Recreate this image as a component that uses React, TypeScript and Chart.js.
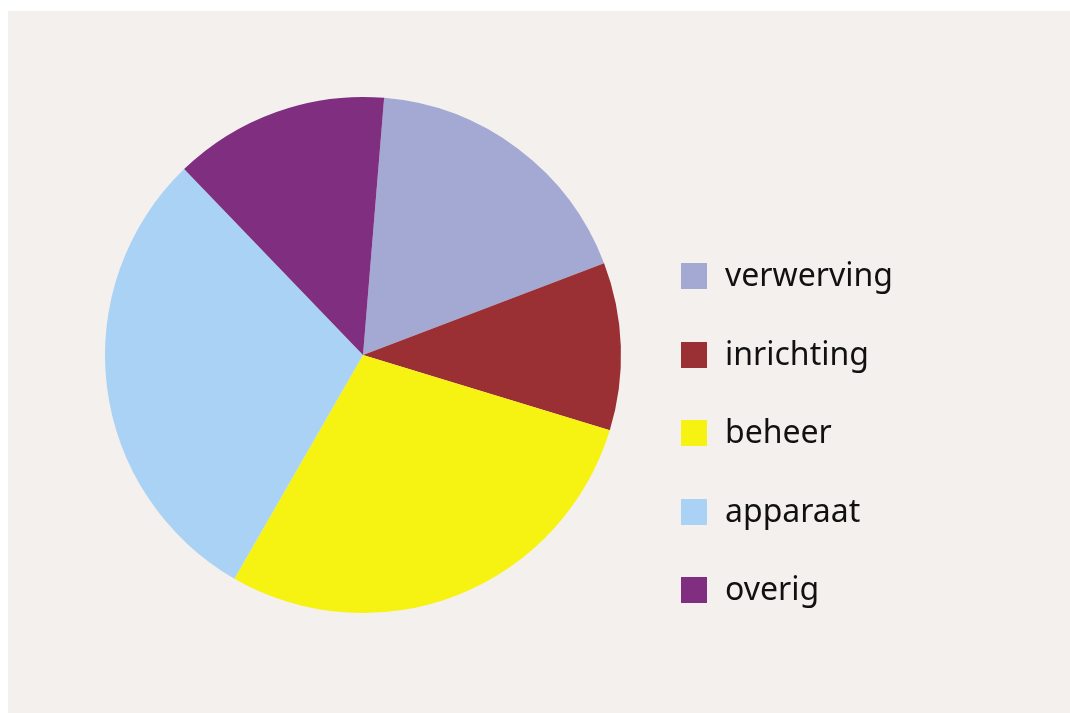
import React, { useEffect, useRef } from "react";
import { Chart, registerables } from "chart.js";

Chart.register(...registerables);

const categories = ["verwerving", "inrichting", "beheer", "apparaat", "overig"];
const values = [17.9, 10.5, 28.6, 29.5, 13.5];
const colors = ["#a4a9d3", "#9a3033", "#f6f312", "#a9d2f4", "#7f2e80"];

const BG = "#f4f0ed";

export default function App() {
  const ref = useRef<HTMLCanvasElement | null>(null);

  useEffect(() => {
    if (!ref.current) return;
    const chart = new Chart(ref.current, {
      type: "pie",
      data: {
        labels: categories,
        datasets: [
          {
            data: values,
            backgroundColor: colors,
            borderWidth: 0,
          },
        ],
      },
      options: {
        responsive: false,
        animation: false,
        rotation: 4.7,
        layout: { padding: { left: 97, right: 449, top: 86, bottom: 100 } },
        plugins: {
          legend: { display: false },
          tooltip: { enabled: false },
        },
      },
    });
    return () => chart.destroy();
  }, []);

  return (
    <div
      style={{
        position: "fixed",
        left: 8,
        top: 11,
        width: 1062,
        height: 702,
        background: BG,
        overflow: "hidden",
      }}
    >
      <canvas ref={ref} width={1062} height={702} style={{ position: "absolute", left: 0, top: 0 }} />
      <div style={{ position: "absolute", left: 673, top: 252 }}>
        {categories.map((c, i) => (
          <div
            key={c}
            style={{
              display: "flex",
              alignItems: "center",
              height: 26,
              marginBottom: i < categories.length - 1 ? 52.5 : 0,
            }}
          >
            <div style={{ width: 26, height: 26, background: colors[i], flex: "none" }} />
            <span
              style={{
                marginLeft: 18,
                fontFamily: "'Noto Sans', sans-serif",
                fontSize: 32,
                color: "#111",
                lineHeight: "26px",
                position: "relative",
                top: -2,
                whiteSpace: "nowrap",
              }}
            >
              {c}
            </span>
          </div>
        ))}
      </div>
    </div>
  );
}
